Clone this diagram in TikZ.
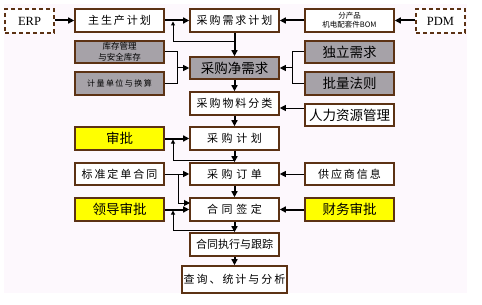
\documentclass[tikz,border=0pt]{standalone}
\usepackage{fontspec}
\setmainfont{Liberation Serif}
\newfontfamily\cjk{Noto Sans CJK SC}
\newfontfamily\cjks[LetterSpace=18]{Noto Sans CJK SC}
\newfontfamily\cjkw[LetterSpace=32]{Noto Sans CJK SC}
\usetikzlibrary{arrows.meta}
\definecolor{brd}{RGB}{92,50,20}
\definecolor{gry}{RGB}{166,162,168}
\definecolor{yel}{RGB}{255,255,0}
\definecolor{bgc}{RGB}{253,248,253}
\begin{document}
\begin{tikzpicture}[x=1pt,y=-1pt,
  box/.style={draw=brd,line width=1.6pt,fill=white,minimum width=89pt,minimum height=23pt,inner sep=0pt},
  greybox/.style={box,fill=gry},
  yelbox/.style={box,fill=yel},
  dbox/.style={draw=brd,line width=1.6pt,dash pattern=on 4pt off 3pt,fill=white,minimum width=49pt,minimum height=24pt,inner sep=0pt,font=\fontsize{12.5}{14}\selectfont},
  ts/.style={font=\cjks\fontsize{11}{13}\selectfont},
  tw/.style={font=\cjkw\fontsize{11}{13}\selectfont},
  tb/.style={font=\cjk\fontsize{13.5}{15}\selectfont},
  thk/.style={line width=2pt},
  thn/.style={line width=1pt},
  arrw/.style={-{Triangle[length=6pt,width=6pt]}},
  sarrw/.style={-{Triangle[length=4pt,width=4pt]}}]
\useasboundingbox (0,0) rectangle (482,305);
\fill[white] (0,0) rectangle (482,305);
\fill[bgc] (4,4) rectangle (467,293);
% nodes
\node[dbox] (erp) at (29.5,21) {ERP};
\node[box,ts] (zsc) at (119.5,20.5) {主生产计划};
\node[box,ts] (xq) at (234.5,20.5) {采购需求计划};
\node[box,align=center,font=\cjk\fontsize{7.5}{9}\selectfont] (bom) at (349.5,20.5) {分产品\\机电配套件BOM};
\node[dbox] (pdm) at (440.5,21) {PDM};
\node[greybox,minimum height=22pt,align=center,font=\cjk\fontsize{8.5}{11}\selectfont] (kc) at (119.5,52) {库存管理\\与安全库存};
\node[greybox,font=\cjks\fontsize{8}{9}\selectfont] (jl) at (119.5,83.5) {计量单位与换算};
\node[greybox,minimum height=22pt,tb] (jx) at (234.5,68) {采购净需求};
\node[greybox,minimum height=22pt,tb] (dl) at (349.5,52) {独立需求};
\node[greybox,tb] (pl) at (349.5,83.5) {批量法则};
\node[box,ts] (wl) at (234.5,103.5) {采购物料分类};
\node[box,minimum height=22pt,tb] (rl) at (349.5,115) {人力资源管理};
\node[yelbox,tb] (sp) at (119.5,138.5) {审批};
\node[box,tw] (jh) at (234.5,138.5) {采购计划};
\node[box,ts,minimum height=22pt] (bz) at (119.5,174) {标准定单合同};
\node[box,tw,minimum height=22pt] (dd) at (234.5,174) {采购订单};
\node[box,ts,minimum height=22pt] (gy) at (349.5,174) {供应商信息};
\node[yelbox,tb] (ld) at (119.5,209.5) {领导审批};
\node[box,tw] (ht) at (234.5,209.5) {合同签定};
\node[yelbox,tb] (cw) at (349.5,209.5) {财务审批};
\node[box,font=\cjk\fontsize{11}{13}\selectfont] (zx) at (234.5,244.5) {合同执行与跟踪};
\node[box,ts,minimum width=105pt,minimum height=27pt] (cx) at (234.5,279.5) {查询、统计与分析};
% coordinates
\coordinate (f1) at (234.5,42);
\coordinate (f1t) at (173,21.5);
\coordinate (j1) at (177,68);
\coordinate (j2) at (292,68);
\coordinate (h) at (0,108);
\coordinate (f2) at (234.5,160);
\coordinate (f2t) at (173,139.5);
\coordinate (b1) at (178,174);
\coordinate (b2) at (190,203);
\coordinate (f3) at (234.5,230);
\coordinate (f3t) at (173,210.5);
% connectors
\draw[thk,arrw] (erp.east |- zsc) -- (zsc);
\draw[thk,arrw] (zsc) -- (xq);
\draw[thk,arrw] (bom) -- (xq);
\draw[thk,arrw] (pdm.west |- bom) -- (bom);
\draw[thk,arrw] (xq) -- (jx);
\draw[thn,sarrw] (f1) -| (f1t);
\draw[thn] (kc.east) -| (j1);
\draw[thn] (jl.east) -| (j1);
\draw[thn,arrw] (j1) -- (jx);
\draw[thn] (dl.west) -| (j2);
\draw[thn] (pl.west) -| (j2);
\draw[thn,arrw] (j2) -- (jx);
\draw[thk,arrw] (jx) -- (wl);
\draw[thn,arrw] (rl.west |- h) -- (wl.east |- h);
\draw[thk,arrw] (wl) -- (jh);
\draw[thk,arrw] (sp) -- (jh);
\draw[thn,sarrw] (f2) -| (f2t);
\draw[thk,arrw] (jh) -- (dd);
\draw[thn,arrw] (bz) -- (dd);
\draw[thn,arrw] (b1) |- (b2);
\draw[thn,arrw] (gy) -- (dd);
\draw[thk,arrw] (dd) -- (ht);
\draw[thk,arrw] (ld) -- (ht);
\draw[thk,arrw] (cw) -- (ht);
\draw[thn,sarrw] (f3) -| (f3t);
\draw[thk,arrw] (ht) -- (zx);
\draw[thk,arrw] (zx) -- (cx);
\end{tikzpicture}
\end{document}
